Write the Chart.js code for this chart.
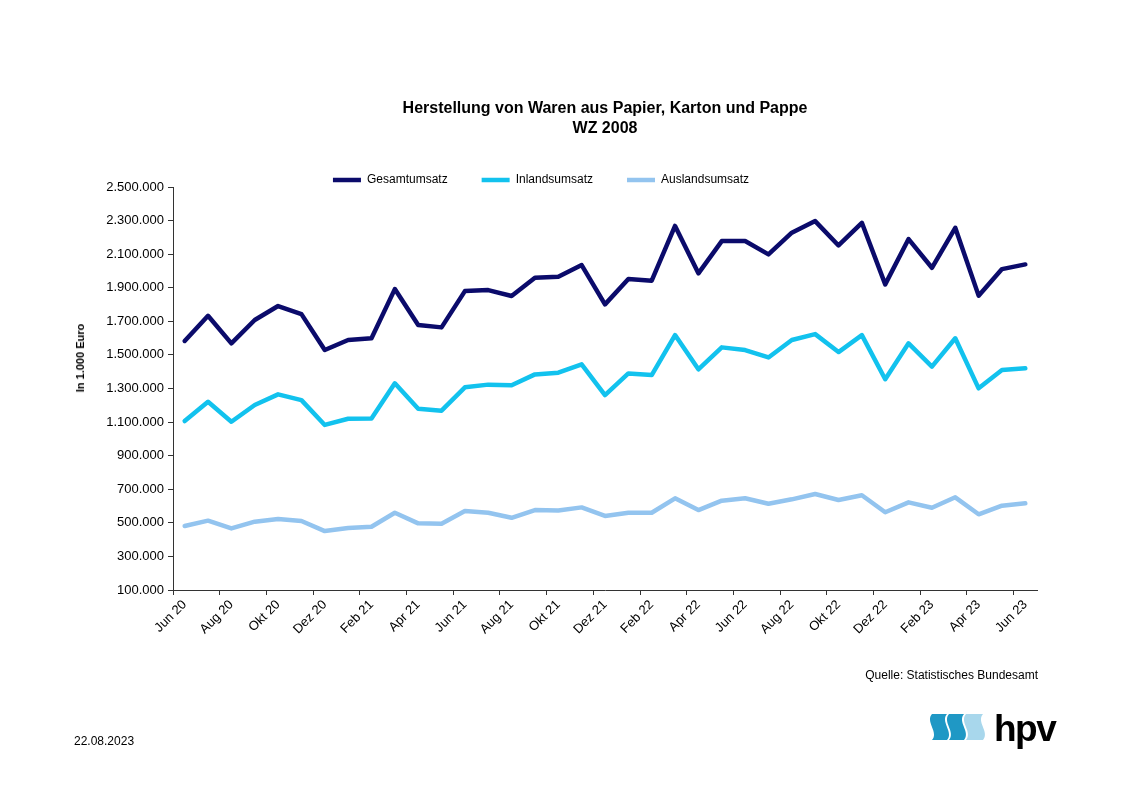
<!DOCTYPE html>
<html lang="de">
<head>
    <meta charset="UTF-8">
    <title>Herstellung von Waren aus Papier, Karton und Pappe</title>
    <script src="https://cdn.jsdelivr.net/npm/chart.js"></script>
    <style>
        body {
            margin: 0;
            background: #fff;
            font-family: "Liberation Sans", Arial, sans-serif;
        }
        #page {
            position: relative;
            width: 1131px;
            height: 800px;
        }
        #chartBox {
            position: absolute;
            left: 0;
            top: 0;
            width: 1131px;
            height: 800px;
        }
        #yTitle {
            position: absolute;
            left: 80px;
            top: 358px;
            transform: translate(-50%, -50%) rotate(-90deg);
            font-size: 11px;
            font-weight: bold;
            white-space: nowrap;
        }
        #source {
            position: absolute;
            right: 93px;
            top: 668px;
            font-size: 12px;
        }
        #date {
            position: absolute;
            left: 74px;
            top: 734px;
            font-size: 12px;
        }
        #logo {
            position: absolute;
            left: 928px;
            top: 706px;
        }
    </style>
</head>
<body>
<div id="page">
    <div id="chartBox"><canvas id="myChart"></canvas></div>
    <div id="yTitle">In 1.000 Euro</div>
    <div id="source">Quelle: Statistisches Bundesamt</div>
    <div id="date">22.08.2023</div>
    <svg id="logo" width="134" height="48" viewBox="0 0 134 48">
        <g transform="translate(0,8)">
            <path d="M4 0 C-3 8, 11 18, 4 26 L19 26 C26 18, 12 8, 19 0 Z" fill="#1f98c5"/>
            <path d="M21 0 C14 8, 28 18, 21 26 L36 26 C43 18, 29 8, 36 0 Z" fill="#1f98c5"/>
            <path d="M38 0 C31 8, 45 18, 38 26 L55 26 C62 18, 48 8, 55 0 Z" fill="#a8d7ec"/>
        </g>
        <text x="66" y="35" font-family="Liberation Sans, Arial" font-weight="bold" font-size="37" letter-spacing="-1.5" fill="#000">hpv</text>
    </svg>
</div>

<script>
    // Monate Jun 20 bis Jun 23
    const months = [
        'Jun 20', 'Jul 20', 'Aug 20', 'Sep 20', 'Okt 20', 'Nov 20', 'Dez 20',
        'Jan 21', 'Feb 21', 'Mär 21', 'Apr 21', 'Mai 21', 'Jun 21', 'Jul 21', 'Aug 21', 'Sep 21', 'Okt 21', 'Nov 21', 'Dez 21',
        'Jan 22', 'Feb 22', 'Mär 22', 'Apr 22', 'Mai 22', 'Jun 22', 'Jul 22', 'Aug 22', 'Sep 22', 'Okt 22', 'Nov 22', 'Dez 22',
        'Jan 23', 'Feb 23', 'Mär 23', 'Apr 23', 'Mai 23', 'Jun 23'
    ];

    // Werte in 1.000 Euro
    const gesamtumsatz = [
        1583000, 1733000, 1569000, 1708000, 1791000, 1743000, 1529000,
        1589000, 1599000, 1892000, 1678000, 1664000, 1880000, 1886000, 1851000, 1960000, 1966000, 2035000, 1801000,
        1952000, 1942000, 2268000, 1986000, 2178000, 2178000, 2099000, 2228000, 2297000, 2152000, 2287000, 1920000,
        2190000, 2019000, 2257000, 1853000, 2011000, 2039000
    ];
    const inlandsumsatz = [
        1106000, 1221000, 1102000, 1202000, 1265000, 1231000, 1083000,
        1120000, 1122000, 1331000, 1180000, 1168000, 1307000, 1323000, 1319000, 1384000, 1394000, 1444000, 1261000,
        1390000, 1380000, 1618000, 1414000, 1545000, 1529000, 1485000, 1589000, 1624000, 1517000, 1618000, 1355000,
        1569000, 1430000, 1599000, 1301000, 1410000, 1420000
    ];
    const auslandsumsatz = [
        481000, 513000, 467000, 507000, 523000, 511000, 451000,
        469000, 477000, 560000, 497000, 495000, 570000, 560000, 530000, 576000, 574000, 592000, 541000,
        560000, 560000, 646000, 576000, 632000, 646000, 614000, 640000, 672000, 636000, 664000, 563000,
        622000, 590000, 652000, 551000, 602000, 616000
    ];

    const yMin = 100000;
    const yMax = 2500000;
    const yStep = 200000;

    function formatDE(value) {
        return String(value).replace(/\B(?=(\d{3})+(?!\d))/g, '.');
    }

    Chart.defaults.font.family = '"Liberation Sans", Arial, sans-serif';
    Chart.defaults.color = '#000';

    const ctx = document.getElementById('myChart');

    new Chart(ctx, {
        type: 'line',
        data: {
            labels: months,
            datasets: [{
                label: 'Gesamtumsatz',
                data: gesamtumsatz,
                borderColor: '#0b0b6b',
                backgroundColor: '#0b0b6b',
                borderWidth: 4.5
            }, {
                label: 'Inlandsumsatz',
                data: inlandsumsatz,
                borderColor: '#12c2ee',
                backgroundColor: '#12c2ee',
                borderWidth: 4.5
            }, {
                label: 'Auslandsumsatz',
                data: auslandsumsatz,
                borderColor: '#93c4ef',
                backgroundColor: '#93c4ef',
                borderWidth: 4.5
            }]
        },
        options: {
            responsive: true,
            maintainAspectRatio: false,
            animation: false,
            layout: {
                padding: { left: 45, right: 94, top: 0, bottom: 0 }
            },
            elements: {
                point: { radius: 0 },
                line: { tension: 0, borderJoinStyle: 'round', borderCapStyle: 'round' }
            },
            plugins: {
                title: {
                    display: true,
                    fullSize: false,
                    text: ['Herstellung von Waren aus Papier, Karton und Pappe', 'WZ 2008'],
                    font: { size: 16, weight: 'bold', lineHeight: 1.25 },
                    color: '#000',
                    padding: { top: 99, bottom: 1 }
                },
                legend: {
                    position: 'top',
                    fullSize: true,
                    maxHeight: 47,
                    labels: {
                        usePointStyle: true,
                        pointStyle: 'line',
                        pointStyleWidth: 28,
                        font: { size: 12 },
                        color: '#000',
                        padding: 34
                    }
                },
                tooltip: { enabled: false }
            },
            scales: {
                x: {
                    offset: true,
                    afterFit: (scale) => { scale.height = 210; },
                    border: { color: '#333', width: 1 },
                    grid: {
                        offset: true,
                        drawOnChartArea: false,
                        tickLength: 5,
                        color: (c) => c.index % 2 === 0 ? '#333' : 'rgba(0,0,0,0)'
                    },
                    ticks: {
                        autoSkip: false,
                        maxRotation: 45,
                        minRotation: 45,
                        font: { size: 13 },
                        color: '#000',
                        padding: 2,
                        callback: function (value, index) {
                            return index % 2 === 0 ? months[index] : '';
                        }
                    }
                },
                y: {
                    min: yMin,
                    max: yMax,
                    afterFit: (scale) => { scale.width = 128; },
                    border: { color: '#333', width: 1 },
                    grid: {
                        drawOnChartArea: false,
                        tickLength: 5,
                        color: '#333'
                    },
                    ticks: {
                        stepSize: yStep,
                        font: { size: 13 },
                        color: '#000',
                        padding: 4,
                        callback: (value) => formatDE(value)
                    }
                }
            }
        }
    });
</script>
</body>
</html>
